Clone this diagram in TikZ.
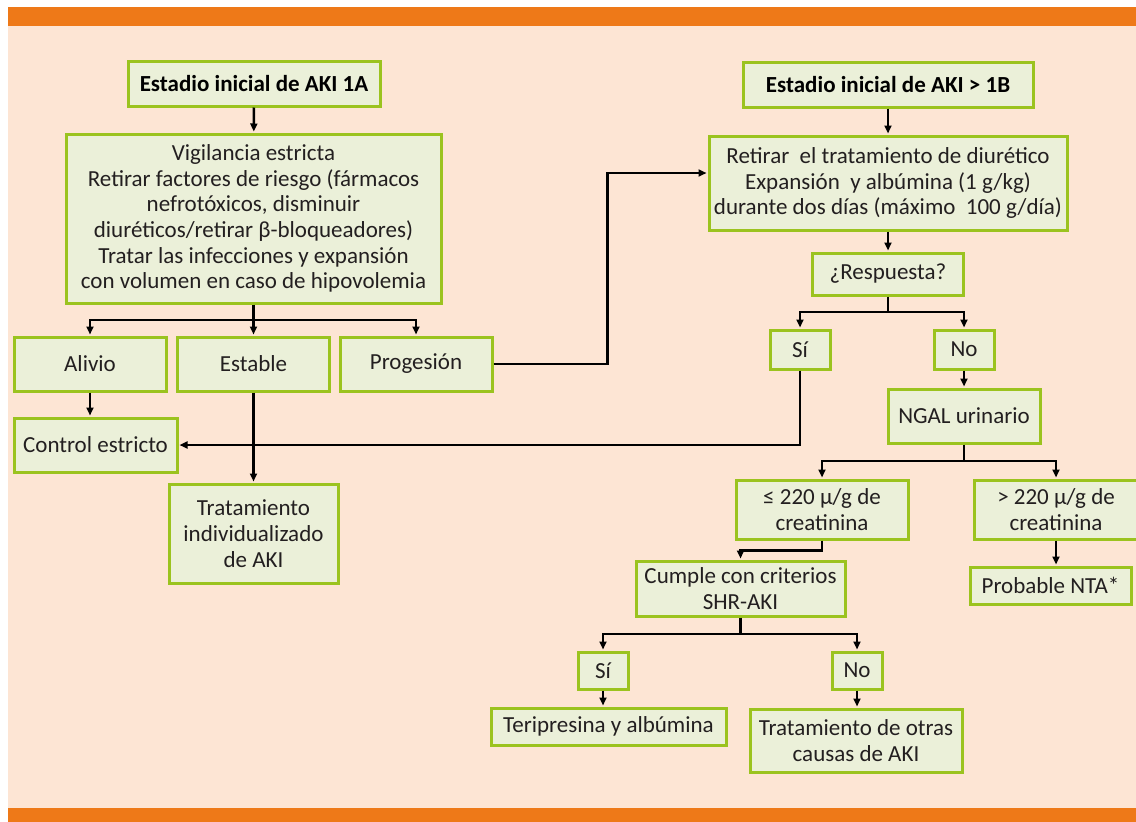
\documentclass[tikz,border=0pt]{standalone}
\usepackage{fontspec}
\setmainfont{Carlito}
\usepackage{tikz}
\usetikzlibrary{arrows.meta}
\definecolor{naranja}{HTML}{EE7918}
\definecolor{durazno}{HTML}{FDE5D4}
\definecolor{verdecaja}{HTML}{9BC31F}
\definecolor{fondocaja}{HTML}{EBF0D9}
\definecolor{texto}{HTML}{231F20}
\tikzstyle{caja} = [draw=verdecaja, fill=fondocaja, line width=3pt, rectangle, inner sep=0pt, align=center, text=texto, font=\fontsize{23}{25.7}\selectfont]
\tikzstyle{titulo} = [caja, font=\fontsize{23}{25.7}\selectfont\bfseries, text=black]
\tikzstyle{flecha} = [line width=2.5pt, -{Triangle[length=8pt,width=7pt]}, shorten >=1pt]
\tikzstyle{linea} = [line width=2.5pt]

\begin{document}
\begin{tikzpicture}[x=1pt, y=-1pt]
	\useasboundingbox (0,0) rectangle (1136,822);
	% fondo
	\fill[white] (0,0) rectangle (1136,822);
	\fill[durazno] (8,26) rectangle (1136,808);
	\fill[naranja] (8,7) rectangle (1136,26);
	\fill[naranja] (8,808) rectangle (1136,822);

	% rama izquierda
	\node[titulo, minimum width=252pt, minimum height=45pt] (ini1a) at (254,83.5) {Estadio inicial de AKI 1A};
	\node[caja, minimum width=375pt, minimum height=169pt] (vigil) at (253.5,218.5) {Vigilancia estricta\\Retirar factores de riesgo (fármacos\\nefrotóxicos, disminuir\\diuréticos/retirar β-bloqueadores)\\Tratar las infecciones y expansión\\con volumen en caso de hipovolemia};
	\node[caja, minimum width=152pt, minimum height=54pt] (alivio) at (90,364) {Alivio};
	\node[caja, minimum width=152pt, minimum height=54pt] (estable) at (253.5,364) {Estable};
	\node[caja, minimum width=152pt, minimum height=54pt] (progres) at (416,364) {Progesión};
	\node[caja, minimum width=163pt, minimum height=54pt] (control) at (95.5,445) {Control estricto};
	\node[caja, minimum width=169pt, minimum height=99pt] (tratind) at (253.5,533.5) {Tratamiento\\individualizado\\de AKI};

	% rama derecha
	\node[titulo, minimum width=290pt, minimum height=45pt] (ini1b) at (888,84.5) {Estadio inicial de AKI > 1B};
	\node[caja, minimum width=358pt, minimum height=94pt] (retirar) at (888,183) {Retirar\ \ el tratamiento de diurético\\Expansión\ \ y albúmina (1 g/kg)\\durante dos días (máximo\ \ 100 g/día)};
	\node[caja, minimum width=151pt, minimum height=42pt] (resp) at (888,274) {¿Respuesta?};
	\node[caja, minimum width=60pt, minimum height=39pt] (si1) at (800,349.5) {Sí};
	\node[caja, minimum width=60pt, minimum height=39pt] (no1) at (964,349.5) {No};
	\node[caja, minimum width=152pt, minimum height=54pt] (ngal) at (964,416) {NGAL urinario};
	\node[caja, minimum width=172pt, minimum height=59pt] (le220) at (822,509.5) {≤ 220 μ/g de\\creatinina};
	\node[caja, minimum width=164pt, minimum height=59pt] (gt220) at (1056,509.5) {> 220 μ/g de\\creatinina};
	\node[caja, minimum width=209pt, minimum height=55pt] (cumple) at (740.5,588.5) {Cumple con criterios\\SHR-AKI};
	\node[caja, minimum width=161pt, minimum height=37pt] (nta) at (1050.5,585.5) {Probable NTA*};
	\node[caja, minimum width=50pt, minimum height=37pt] (si2) at (603,670.5) {Sí};
	\node[caja, minimum width=50pt, minimum height=37pt] (no2) at (857,670.5) {No};
	\node[caja, minimum width=235pt, minimum height=37pt] (teri) at (608.5,726.5) {Teripresina y albúmina};
	\node[caja, minimum width=212pt, minimum height=63pt] (otras) at (856,740.5) {Tratamiento de otras\\causas de AKI};

	% puntos de ramificacion
	\coordinate (r1) at (253.5,320);
	\coordinate (r2) at (888,312);
	\coordinate (r3) at (964,461);
	\coordinate (r4) at (740.5,634);

	% conectores izquierda
	\draw[flecha] (ini1a) -- (vigil);
	\draw[linea] (vigil.south) -- (r1);
	\draw[flecha] (r1) -| (alivio);
	\draw[flecha] (r1) -- (estable);
	\draw[flecha] (r1) -| (progres);
	\draw[flecha] (alivio.south) -- (alivio.south |- control.north);
	\draw[flecha] (estable) -- (tratind);
	\draw[flecha] (progres.east) -- ++(114,0) |- ([yshift=10pt]retirar.west);

	% conectores derecha
	\draw[flecha] (ini1b) -- (retirar);
	\draw[flecha] (retirar) -- (resp);
	\draw[linea] (resp.south) -- (r2);
	\draw[flecha] (r2) -| (si1);
	\draw[flecha] (r2) -| (no1);
	\draw[flecha] (si1.south) |- (control.east);
	\draw[flecha] (no1) -- (ngal);
	\draw[linea] (ngal.south) -- (r3);
	\draw[flecha] (r3) -| (le220);
	\draw[flecha] (r3) -| (gt220);
	\draw[flecha] (le220.south) -- ++(0,10) -| (cumple);
	\draw[flecha] (gt220.south) -- (gt220.south |- nta.north);
	\draw[linea] (cumple.south) -- (r4);
	\draw[flecha] (r4) -| (si2);
	\draw[flecha] (r4) -| (no2);
	\draw[flecha] (si2.south) -- (si2.south |- teri.north);
	\draw[flecha] (no2.south) -- (no2.south |- otras.north);
\end{tikzpicture}
\end{document}
